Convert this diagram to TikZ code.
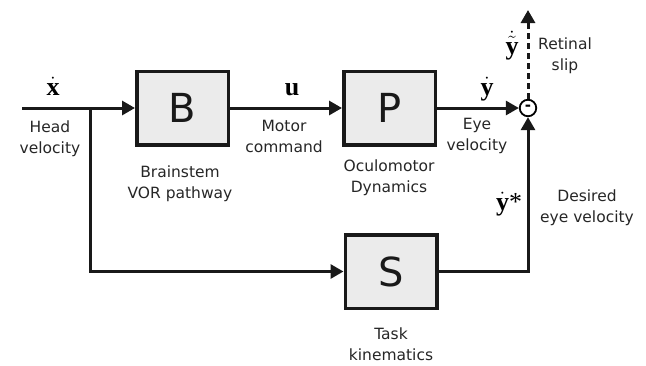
\documentclass[tikz,border=0pt]{standalone}
\usepackage{fontspec}
\setmainfont{DejaVu Sans}
\newfontfamily\symf{Liberation Serif}
\usetikzlibrary{arrows.meta}
\newcommand{\bsym}[1]{\hbox{\symf\bfseries #1}}
\begin{document}
\begin{tikzpicture}[x=1pt,y=-1pt,
  blk/.style={draw=black!90, line width=3.5pt, fill=black!8, minimum width=91.5pt, minimum height=73.5pt, inner sep=0pt, font=\fontsize{40}{40}\selectfont, text=black!90},
  lbl/.style={font=\fontsize{15.5}{21}\selectfont, align=center, text=black!85, inner sep=0pt},
  sym/.style={font=\fontsize{26}{26}\selectfont, anchor=base, inner sep=0pt},
  wire/.style={line width=3pt, draw=black!90},
  arr/.style={wire, -{Triangle[length=13pt,width=14pt]}},
  sumj/.style={circle, draw=black, line width=1.8pt, fill=white, minimum size=16.5pt, inner sep=0pt, font=\fontsize{15}{15}\selectfont\bfseries}
]
\useasboundingbox (0,0) rectangle (646,365);
% blocks
\node[blk] (B) at (182.5,108) {B};
\node[blk] (P) at (389.5,108) {P};
\node[blk] (S) at (391,271.5) {S};
\node[sumj] (c) at (528,108) {\raisebox{1pt}{-}};
% free ends
\coordinate (in) at (22,108);
\coordinate (br) at (90,108);
\coordinate (out) at (528,10);
% connectors
\draw[wire] (in) -- (br);
\draw[arr] (br) -- (B.west);
\draw[arr] (br) |- (S.west);
\draw[arr] (B.east) -- (P.west);
\draw[arr] (P.east) -- (c.west);
\draw[arr] (S.east) -| (c.south);
\draw[wire, dash pattern=on 6pt off 4pt, -{Triangle[length=13pt,width=14pt]}] (c.north) -- (out);
% signal symbols
\node[sym] (sx) at (53,95) {$\dot{\bsym{x}}$};
\node[sym] (su) at (292,95) {$\bsym{u}$};
\node[sym] (sy) at (487,95) {$\dot{\bsym{y}}$};
\node[sym] (sty) at (512,54) {$\dot{\tilde{\bsym{y}}}$};
\node[sym] (sys) at (509,210) {$\dot{\bsym{y}}\hbox{\symf *}$};
% labels
\node[lbl] (l1) at (50,138.5) {Head\\velocity};
\node[lbl] (l2) at (180,183.5) {Brainstem\\VOR pathway};
\node[lbl] (l3) at (284,136) {Motor\\command};
\node[lbl] (l4) at (389,178) {Oculomotor\\Dynamics};
\node[lbl] (l5) at (477,135.5) {Eye\\velocity};
\node[lbl] (l6) at (565,56) {Retinal\\slip};
\node[lbl] (l7) at (587,208) {Desired\\eye velocity};
\node[lbl] (l8) at (391,344) {Task\\kinematics};
\end{tikzpicture}
\end{document}
